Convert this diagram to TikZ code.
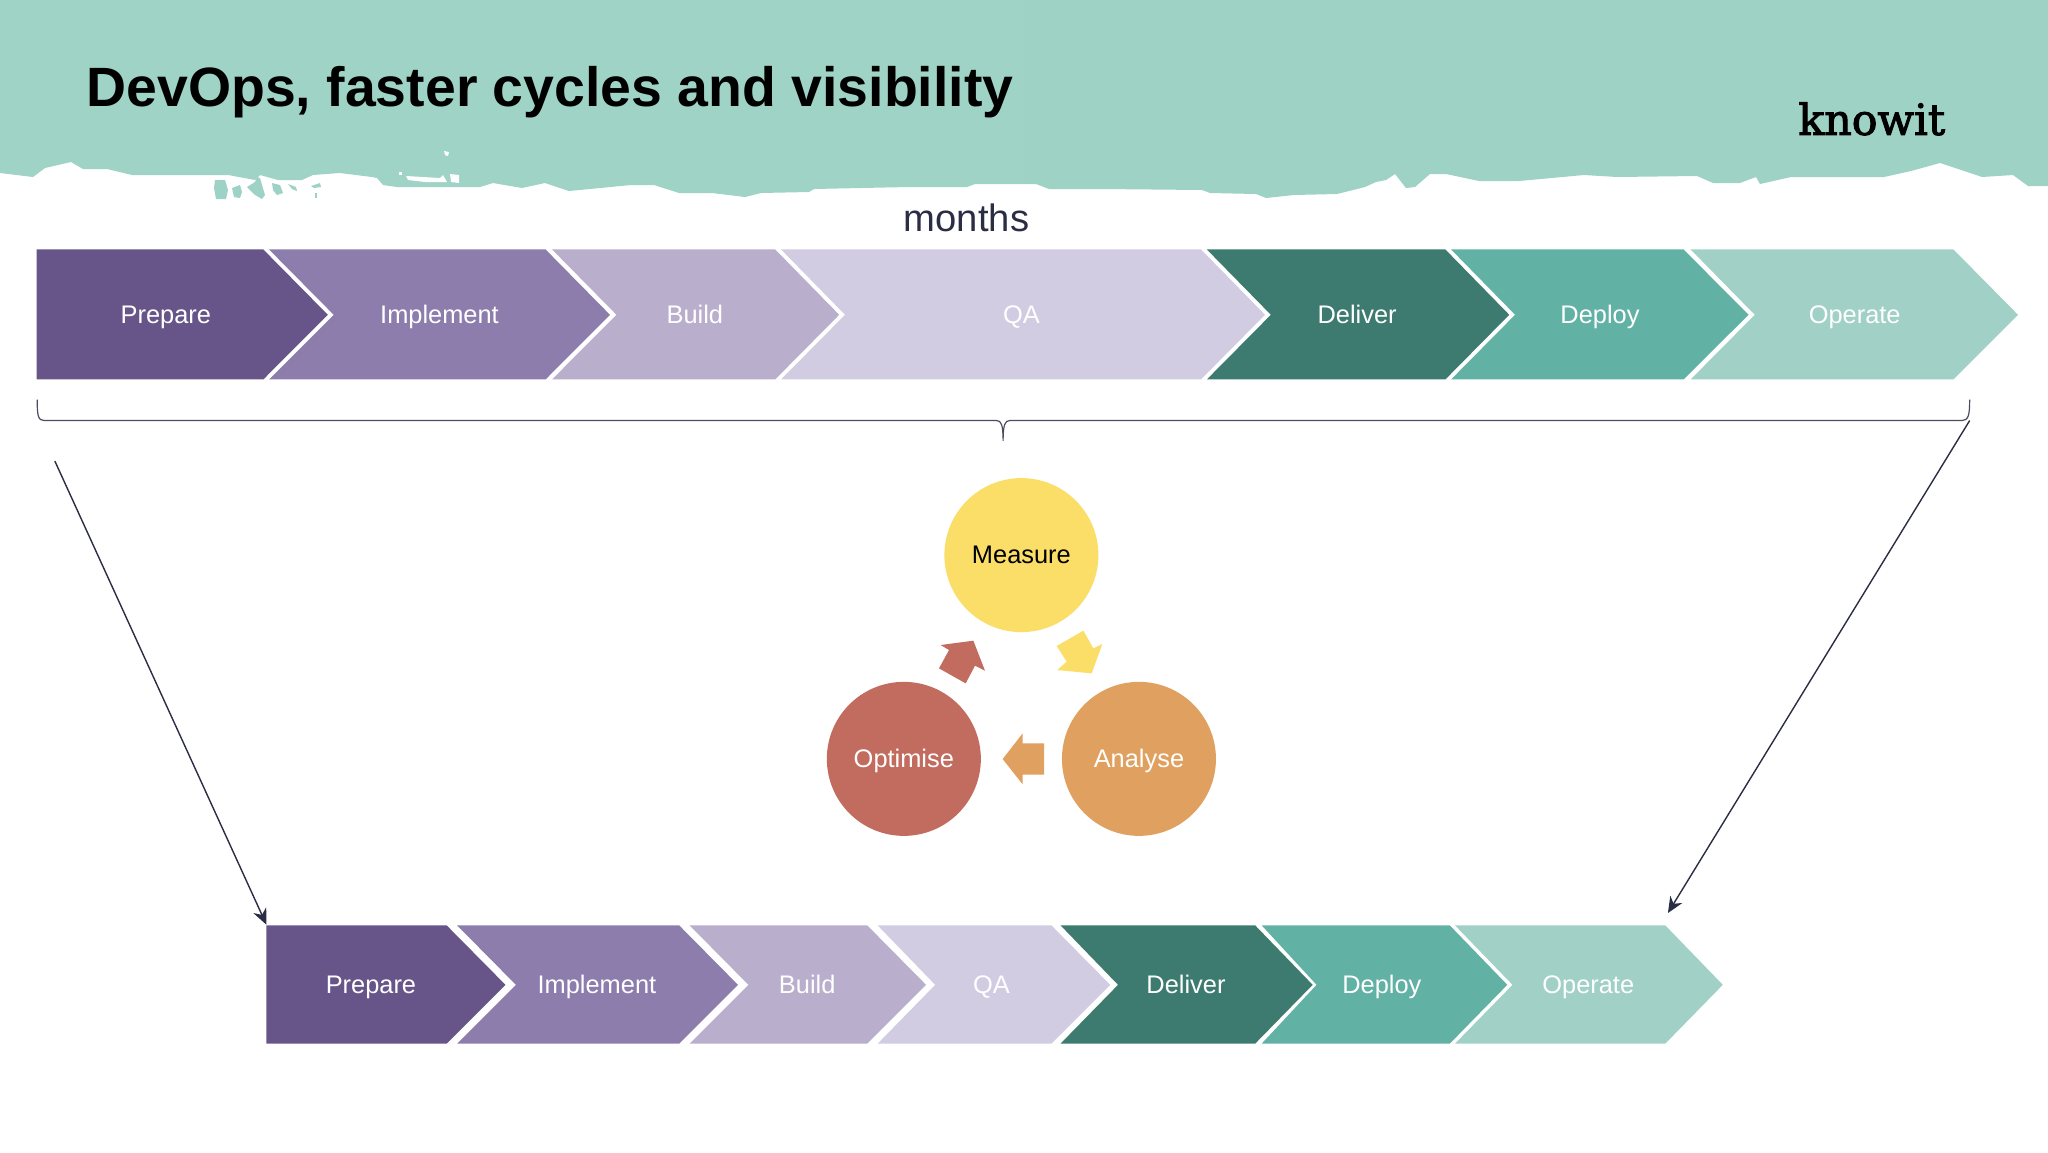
\documentclass[tikz,border=0pt]{standalone}
\usepackage{fontspec}
\setmainfont{Liberation Sans}
\newfontfamily\logofont[FakeBold=2.4]{DejaVu Serif}
\usetikzlibrary{arrows.meta}
\definecolor{headl}{HTML}{9ED3C5}
\definecolor{headm}{HTML}{A3CFC8}
\definecolor{headr}{HTML}{9ED2C5}
\definecolor{headb}{HTML}{9FD2C6}
\definecolor{ink}{HTML}{2B2D45}
\definecolor{cPrep}{HTML}{67558A}
\definecolor{cImpl}{HTML}{8C7DAD}
\definecolor{cBuild}{HTML}{B9AFCD}
\definecolor{cQA}{HTML}{D2CCE2}
\definecolor{cDeli}{HTML}{3D7B70}
\definecolor{cDepl}{HTML}{62B1A5}
\definecolor{cOper}{HTML}{A1D1C6}
\definecolor{cYel}{HTML}{FADE67}
\definecolor{cOra}{HTML}{E0A05F}
\definecolor{cRed}{HTML}{C26B5F}
\tikzset{
  lab/.style={font=\fontsize{12.7}{15}\selectfont,text=white,inner sep=0pt,text height=11.14pt,text depth=2pt},
  circ/.style={circle,minimum size=77pt,inner sep=0pt,font=\fontsize{12.7}{15}\selectfont,text height=10.4pt,text depth=2pt},
  link/.style={draw=ink,line width=0.7pt,-{Stealth[length=8pt,width=7pt]}},
  bracket/.style={draw=ink!85,line width=0.6pt},
}
% name, left, notch, shoulder, tip, label x, label, colour
\newcommand{\chev}[8]{%
  \fill[#8] (#2,\ctop) -- (#4,\ctop) -- (#5,\cmid) -- (#4,\cbot) -- (#2,\cbot) -- (#3,\cmid) -- cycle;
  \node[lab] (#1) at (#6,\cmid) {#7};}
\begin{document}
\begin{tikzpicture}[x=0.65306pt,y=-0.65306pt]
\useasboundingbox (0,0) rectangle (1568,882);
\fill[white] (0,0) rectangle (1568,882);
% torn header, in full-size pixels
\begin{scope}[scale=0.765625]
\path[left color=headl,middle color=headm,right color=headr] (0,0) -- (2048,0) -- (2048,186) -- (2028,186) -- (2013,175) -- (1982,177) -- (1964,171) -- (1940,163) -- (1911,171) -- (1884,177) -- (1791,177) -- (1760,184) -- (1756,177) -- (1740,183) -- (1713,183) -- (1697,176) -- (1617,177) -- (1584,175) -- (1519,181) -- (1479,181) -- (1446,174) -- (1430,174) -- (1415,187) -- (1406,188) -- (1395,174) -- (1386,180) -- (1376,182) -- (1365,187) -- (1337,194) -- (1294,195) -- (1266,198) -- (1256,194) -- (1210,193) -- (1202,190) -- (1102,189) -- (1049,189) -- (1036,184) -- (975,184) -- (967,187) -- (909,187) -- (814,189) -- (809,192) -- (761,193) -- (745,197) -- (712,193) -- (679,193) -- (654,185) -- (631,185) -- (600,188) -- (569,191) -- (545,183) -- (522,188) -- (493,183) -- (480,187) -- (397,187) -- (383,185) -- (377,178) -- (372,177) -- (340,173) -- (313,175) -- (302,180) -- (278,180) -- (260,175) -- (255,180) -- (228,175) -- (205,175) -- (132,175) -- (107,169) -- (83,169) -- (71,162) -- (45,168) -- (33,177) -- (0,173) -- cycle;
\fill[headb] (215,180) -- (225,180) -- (228,190) -- (226,199) -- (216,199) -- (214,188) -- cycle;
\fill[headb] (232,188) -- (240,185) -- (242,192) -- (240,198) -- (234,197) -- cycle;
\fill[headb] (247,187) -- (255,182) -- (257,177) -- (260,178) -- (262,185) -- (265,195) -- (262,199) -- (255,195) -- (250,190) -- cycle;
\fill[headb] (272,183) -- (280,185) -- (283,193) -- (277,195) -- (273,190) -- cycle;
\fill[headb] (288,184) -- (296,187) -- (297,191) -- (292,189) -- cycle;
\fill[headb] (311,186) -- (320,183) -- (321,187) -- (314,188) -- cycle;
\fill[headb] (315,193) -- (317,193) -- (317,198) -- (315,198) -- cycle;
\fill[white] (406,176) -- (440,178) -- (443,175) -- (447,182) -- (425,182) -- (408,180) -- cycle;
\fill[white] (450,174) -- (459,175) -- (459,183) -- (451,182) -- cycle;
\fill[white] (399,172) -- (402,172) -- (402,175) -- (399,175) -- cycle;
\fill[white] (444,151) -- (449,152) -- (448,156) -- (445,155) -- cycle;
\end{scope}
\node[anchor=west,inner sep=0pt,font=\fontsize{27.7}{32}\selectfont\bfseries,text=black] (title) at (66,70.5) {DevOps, faster cycles and visibility};
\node[inner sep=0pt,font=\fontsize{21.4}{25}\logofont,text=black] (logo) at (1433,91) {knowit};
\node[inner sep=0pt,font=\fontsize{19.1}{23}\selectfont,text=ink] (months) at (740,167) {months};
% upper process
\def\ctop{191}\def\cmid{241}\def\cbot{290.5}
\chev{u1}{28}{28}{201.6}{251}{127}{Prepare}{cPrep}
\chev{u2}{206}{255.5}{417.7}{467}{336.5}{Implement}{cImpl}
\chev{u3}{422.7}{472}{593.5}{642.5}{532}{Build}{cBuild}
\chev{u4}{598}{647}{919.5}{968.5}{782}{QA}{cQA}
\chev{u5}{924}{973}{1106.6}{1155.5}{1039}{Deliver}{cDeli}
\chev{u6}{1111}{1160}{1289}{1338.7}{1225}{Deploy}{cDepl}
\chev{u7}{1294.4}{1343.5}{1495.6}{1545}{1420}{Operate}{cOper}
% brace
\coordinate (bl) at (28.5,306);
\coordinate (bm) at (768,337.5);
\coordinate (br) at (1508,306);
\coordinate (bj) at (1508,322);
\draw[bracket] (bl) .. controls (28.5,318) and (29,322) .. (34,322) -- (763,322) .. controls (766.5,322) and (768,325) .. (bm) .. controls (768,325) and (769.5,322) .. (773,322) -- (1502,322) .. controls (1507,322) and (1508,318) .. (br);
% lower process
\def\ctop{708.5}\def\cmid{754}\def\cbot{799}
\chev{d1}{204}{204}{342}{387}{284}{Prepare}{cPrep}
\chev{d2}{350}{395}{520}{565}{457}{Implement}{cImpl}
\chev{d3}{528}{573}{664}{709}{618}{Build}{cBuild}
\chev{d4}{672}{716}{805}{850}{759}{QA}{cQA}
\chev{d5}{812}{856}{961}{1005}{908}{Deliver}{cDeli}
\chev{d6}{966}{1008}{1110}{1154}{1058}{Deploy}{cDepl}
\chev{d7}{1114}{1158}{1275}{1319}{1216}{Operate}{cOper}
% zoom lines
\coordinate (la) at (42,353);
\coordinate (lb) at (204,708);
\coordinate (rb) at (1277,699);
\draw[link] (la) -- (lb);
\draw[link] (bj) -- (rb);
% cycle
\node[circ,fill=cYel,text=black] (measure) at (782,425) {Measure};
\node[circ,fill=cOra,text=white] (analyse) at (872,581) {Analyse};
\node[circ,fill=cRed,text=white] (optimise) at (692,581) {Optimise};
\begin{scope}[shift={(612.5,352.2)},scale=0.2552]
\fill[cYel] (770,558) -- (850,512) -- (880,565) -- (907,552) -- (875,640) -- (772,630) -- (800,605) -- cycle;
\fill[cRed] (417,625) -- (497,670) -- (525,617) -- (555,632) -- (520,542) -- (422,555) -- (447,570) -- cycle;
\fill[cOra] (732,850) -- (732,944) -- (668,944) -- (668,973) -- (608,897) -- (668,820) -- (668,850) -- cycle;
\end{scope}
\end{tikzpicture}
\end{document}
